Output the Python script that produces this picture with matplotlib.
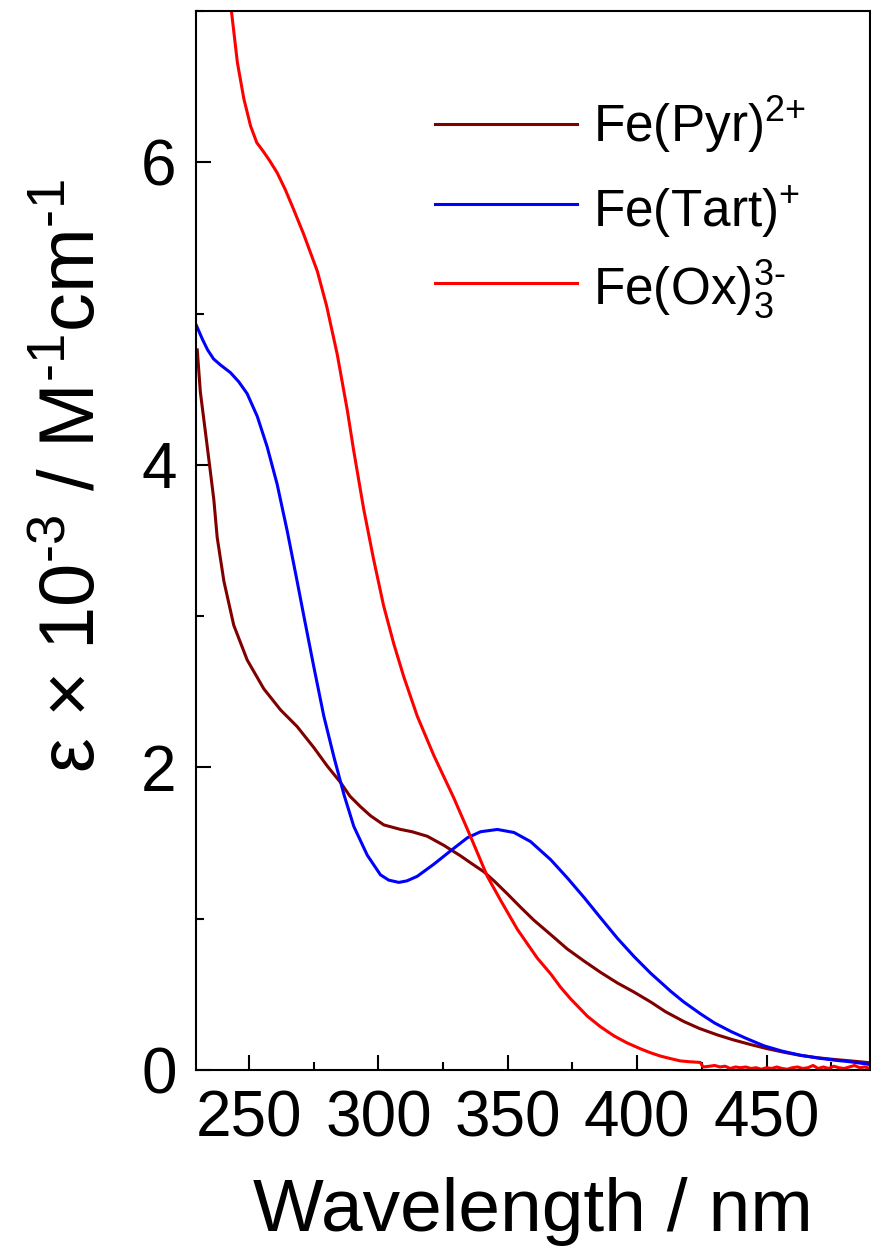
import matplotlib
matplotlib.use("Agg")
import matplotlib.pyplot as plt
from matplotlib.ticker import MultipleLocator

plt.rcParams['font.family'] = ['Liberation Sans', 'DejaVu Sans']
plt.rcParams['mathtext.fontset'] = 'custom'
plt.rcParams['mathtext.rm'] = 'Liberation Sans'
plt.rcParams['mathtext.it'] = 'Liberation Sans:italic'
plt.rcParams['mathtext.bf'] = 'Liberation Sans:bold'

# Absorption spectra (wavelength in nm, epsilon in 10^3 M^-1 cm^-1)
pyr_wl = [230.0, 231.2, 233.2, 235.1, 236.4, 237.7, 240.3, 244.1, 249.3, 255.7,
          262.2, 268.6, 275.1, 280.2, 285.4, 289.0, 293.1, 297.0, 302.1, 308.6,
          313.0, 318.9, 325.3, 331.8, 336.0, 340.8, 345.0, 349.8, 355.0, 360.1,
          366.6, 373.0, 379.5, 385.9, 392.4, 398.8, 405.2, 411.0, 418.1, 424.0,
          431.0, 437.0, 443.9, 450.0, 456.8, 463.0, 469.7, 476.0, 482.6, 490.0]
pyr_eps = [4.76, 4.48, 4.21, 3.95, 3.77, 3.52, 3.23, 2.94, 2.71, 2.52,
           2.38, 2.27, 2.13, 2.01, 1.90, 1.81, 1.74, 1.68, 1.62, 1.59,
           1.575, 1.545, 1.485, 1.415, 1.365, 1.31, 1.245, 1.165, 1.075, 0.99,
           0.895, 0.80, 0.72, 0.645, 0.575, 0.515, 0.45, 0.385, 0.32, 0.275,
           0.232, 0.20, 0.168, 0.142, 0.117, 0.097, 0.081, 0.07, 0.06, 0.048]

tart_wl = [229.7, 232.0, 234.0, 236.3, 239.0, 242.8, 246.0, 249.3, 253.2, 257.0,
           260.9, 264.8, 268.6, 271.2, 275.1, 278.9, 282.8, 286.7, 290.5, 295.7,
           300.8, 304.0, 307.9, 311.0, 315.0, 321.4, 328.0, 334.4, 339.5, 346.0,
           352.4, 358.8, 366.6, 373.0, 379.5, 385.9, 392.4, 398.8, 405.2, 413.0,
           418.0, 424.6, 430.0, 436.2, 442.0, 449.0, 456.0, 463.3, 470.0, 476.2,
           482.0, 487.8, 490.0]
tart_eps = [4.92, 4.83, 4.76, 4.70, 4.66, 4.61, 4.55, 4.47, 4.32, 4.12,
            3.87, 3.56, 3.23, 3.00, 2.66, 2.34, 2.07, 1.82, 1.61, 1.42,
            1.29, 1.255, 1.24, 1.25, 1.28, 1.36, 1.45, 1.535, 1.575, 1.59,
            1.57, 1.51, 1.39, 1.27, 1.14, 1.005, 0.87, 0.75, 0.64, 0.52,
            0.45, 0.37, 0.31, 0.255, 0.21, 0.16, 0.125, 0.097, 0.079, 0.065,
            0.055, 0.042, 0.036]

ox_wl = [242.8, 243.2, 245.5, 248.0, 250.6, 253.0, 255.6, 258.0, 260.9, 264.0,
         267.2, 271.0, 276.4, 280.0, 284.1, 288.0, 290.4, 294.3, 298.1, 302.0,
         305.9, 309.8, 315.0, 321.4, 329.1, 335.7, 342.1, 347.3, 353.7, 361.4,
         366.6, 370.5, 374.3, 380.8, 385.9, 391.1, 396.0, 401.3, 405.0, 409.0,
         413.0, 416.7, 420.0, 424.4, 425.5, 428.0, 430.0, 432.0, 434.0, 436.0,
         438.0, 440.0, 442.0, 444.0, 446.0, 448.0, 450.0, 452.0, 454.0, 456.0,
         458.0, 460.0, 462.0, 464.0, 466.0, 468.0, 470.0, 472.0, 474.0, 476.0,
         478.0, 480.0, 482.0, 484.0, 486.0, 488.0, 490.0]
ox_eps = [7.05, 7.00, 6.66, 6.42, 6.24, 6.13, 6.07, 6.01, 5.93, 5.82,
          5.69, 5.53, 5.28, 5.05, 4.73, 4.36, 4.10, 3.71, 3.38, 3.07,
          2.82, 2.60, 2.34, 2.08, 1.80, 1.54, 1.28, 1.12, 0.93, 0.74,
          0.635, 0.545, 0.47, 0.355, 0.285, 0.225, 0.18, 0.14, 0.115, 0.092,
          0.075, 0.06, 0.055, 0.05, 0.02, 0.025, 0.03, 0.02, 0.025, 0.01,
          0.02, 0.015, 0.02, 0.01, 0.015, 0.005, 0.015, 0.01, 0.02, 0.01,
          0.005, 0.015, 0.02, 0.01, 0.015, 0.03, 0.01, 0.02, 0.01, 0.025,
          0.015, 0.01, 0.02, 0.03, 0.015, 0.02, 0.01]

series = [
    (pyr_wl, pyr_eps, '#800000', r'Fe(Pyr)$^{\text{2+}}$'),
    (tart_wl, tart_eps, '#0000ff', r'Fe(Tart)$^{\text{+}}$'),
    (ox_wl, ox_eps, '#ff0000', r'Fe(Ox)$_3^{\text{3-}}$'),
]

fig = plt.figure(figsize=(8.71, 12.52), dpi=100)
ax = fig.add_axes([0.2250, 0.14537, 0.77385, 0.84584])

for wl, eps, color, _ in series:
    ax.plot(wl, eps, color=color, lw=2.2, solid_joinstyle='round')

ax.set_xlim(229.5, 490)
ax.set_ylim(0, 7)
ax.xaxis.set_major_locator(MultipleLocator(50))
ax.xaxis.set_minor_locator(MultipleLocator(25))
ax.yaxis.set_major_locator(MultipleLocator(2))
ax.yaxis.set_minor_locator(MultipleLocator(1))
ax.tick_params(which='both', direction='in', width=1.5, colors='black',
               top=False, right=False, labelsize=46, pad=14)
ax.tick_params(which='major', length=11)
ax.tick_params(which='minor', length=6)
for sp in ax.spines.values():
    sp.set_linewidth(1.5)

ax.set_xlabel('Wavelength / nm', fontsize=54, labelpad=20)
fig.text(0.085, 0.620, r'ε × 10$^{\text{-3}}$ / M$^{\text{-1}}$cm$^{\text{-1}}$',
         rotation=90, fontsize=56, ha='center', va='center')

# Key: short line segments with labels, in axes fractions
key_y_line = [0.8933, 0.8178, 0.7432]
key_y_text = [0.8766, 0.7964, 0.7224]
for (wl, eps, color, label), yl, yt in zip(series, key_y_line, key_y_text):
    ax.plot([0.3546, 0.5653], [yl, yl], color=color, lw=2.2,
            transform=ax.transAxes)
    ax.text(0.589, yt, label, transform=ax.transAxes, fontsize=37,
            ha='left', va='baseline')

fig.savefig('out.png', dpi=100)
